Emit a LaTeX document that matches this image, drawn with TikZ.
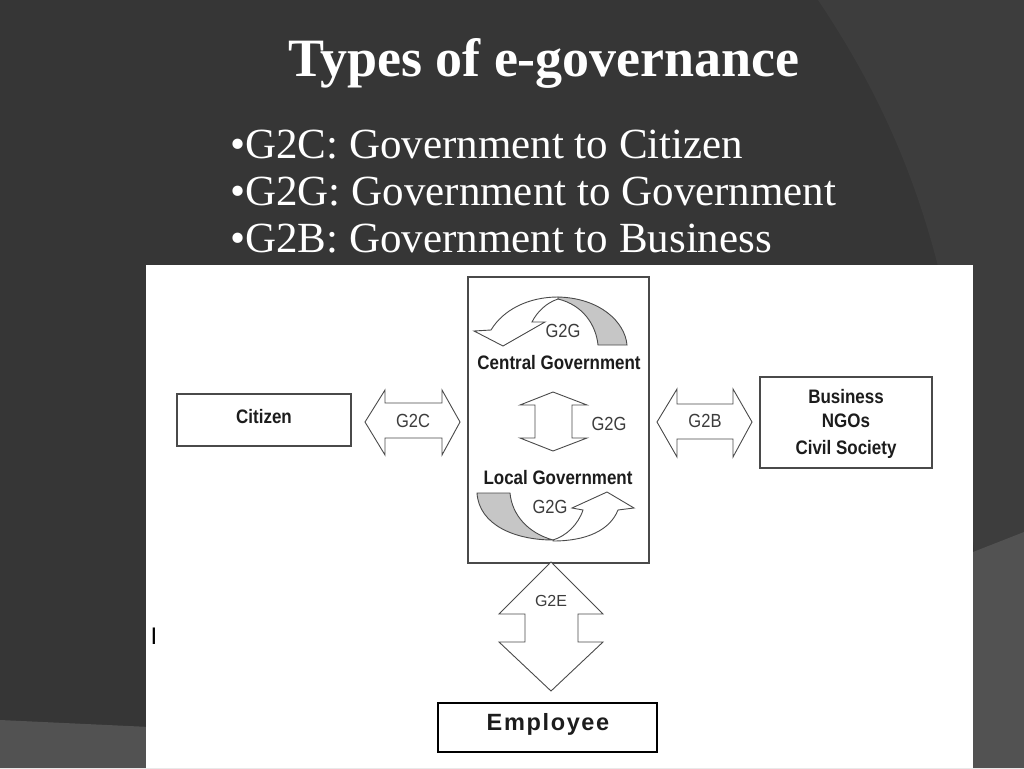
\documentclass[tikz,border=0pt]{standalone}
\usepackage{fontspec}
\setmainfont{Liberation Serif}
\newfontfamily\arial{Liberation Sans}
\newfontfamily\empfont[LetterSpace=7]{Liberation Sans}
\newcommand{\narrowtxt}[1]{\scalebox{0.87}[1]{#1}}
\definecolor{bgdark}{HTML}{363636}
\definecolor{bgmid}{HTML}{3D3D3D}
\definecolor{bglight}{HTML}{525252}
\definecolor{edge}{HTML}{4A4A4A}
\definecolor{band}{HTML}{C6C6C6}
\definecolor{lbl}{HTML}{3C3C3C}
\definecolor{ink}{HTML}{1C1C1C}
\tikzset{
  blockarrow/.style={draw=edge, fill=white, line width=0.9pt, line join=miter},
  bandshape/.style={draw=edge, fill=band, line width=0.9pt},
  boxshape/.style={draw=edge, line width=1.4pt, fill=white},
  arrowlabel/.style={font=\arial\fontsize{19}{19}\selectfont, text=lbl, inner sep=0pt},
  boldlabel/.style={font=\arial\bfseries\fontsize{19.5}{22}\selectfont, text=ink, inner sep=0pt},
  bullettext/.style={font=\fontsize{43}{47}\selectfont, text=white, anchor=base west, inner sep=0pt}
}
\begin{document}
\begin{tikzpicture}[x=1pt,y=-1pt]
\useasboundingbox (0,0) rectangle (1024,768);
% background
\fill[bgdark] (0,0) rectangle (1024,768);
\fill[bgmid] (818,0) .. controls (875,85) and (925,185) .. (952,330) -- (975,560) -- (1024,540) -- (1024,0) -- cycle;
\fill[bglight] (0,720) -- (150,727) -- (973,552) -- (1024,532) -- (1024,768) -- (0,768) -- cycle;
% title and bullets
\node[font=\bfseries\fontsize{54}{60}\selectfont, text=white, anchor=base, inner sep=0pt] (title) at (544,76) {Types of e-governance};
\node[bullettext] (b1) at (230,158) {\textbullet G2C: Government to Citizen};
\node[bullettext] (b2) at (230,205) {\textbullet G2G: Government to Government};
\node[bullettext] (b3) at (230,252) {\textbullet G2B: Government to Business};
% white picture area
\fill[white] (146,265) rectangle (973,768);
% boxes
\draw[boxshape] (177,394) rectangle (351,446);
\node[boldlabel] (citizen) at (264,417) {\narrowtxt{Citizen}};
\draw[boxshape] (760,377) rectangle (932,468);
\node[boldlabel] (business) at (846,397) {\narrowtxt{Business}};
\node[boldlabel] (ngos) at (846,421) {\narrowtxt{NGOs}};
\node[boldlabel] (civil) at (846,449) {\narrowtxt{Civil Society}};
\draw[boxshape] (468,277) rectangle (649,563);
\node[boldlabel] (central) at (559,363) {\narrowtxt{Central Government}};
\node[boldlabel] (local) at (558,478) {\narrowtxt{Local Government}};
\draw[draw=black, line width=2.8pt, fill=white] (438,703) rectangle (657,752);
\node[font=\empfont\bfseries\fontsize{23.5}{24}\selectfont, text=ink, inner sep=0pt] (employee) at (548,724) {Employee};
% G2C double arrow
\draw[blockarrow] (365,422) -- (385,390) -- (385,403) -- (442,403) -- (442,390) -- (460,422) -- (442,455) -- (442,438) -- (385,438) -- (385,455) -- cycle;
\node[arrowlabel] (g2c) at (413,421) {\narrowtxt{G2C}};
% G2B double arrow
\draw[blockarrow] (657,422) -- (677,389) -- (677,404) -- (733,404) -- (733,389) -- (752,422) -- (733,457) -- (733,439) -- (677,439) -- (677,457) -- cycle;
\node[arrowlabel] (g2b) at (705,421) {\narrowtxt{G2B}};
% vertical G2G arrow
\draw[blockarrow] (553,392) -- (587,405) -- (572,405) -- (572,438) -- (587,438) -- (553,451) -- (520,438) -- (535,438) -- (535,405) -- (520,405) -- cycle;
\node[arrowlabel] (g2gmid) at (609,424) {\narrowtxt{G2G}};
% G2E arrow
\draw[blockarrow] (551,562) -- (603,614) -- (578,614) -- (578,642) -- (603,642) -- (551,691) -- (499,642) -- (525,642) -- (525,614) -- (499,614) -- cycle;
\node[arrowlabel, font=\arial\fontsize{16}{16}\selectfont] (g2e) at (551,601) {G2E};
% top curved arrow
\draw[bandshape] (558,297) .. controls (600,298) and (625,322) .. (627,345) -- (598,345) .. controls (596,325) and (583,305) .. (558,299) -- cycle;
\draw[blockarrow] (558,297) .. controls (528,297) and (503,310) .. (491,330) -- (474,331) -- (503,346) -- (545,322) -- (532,322) .. controls (537,312) and (546,303) .. (558,299) -- cycle;
\node[arrowlabel] (g2gtop) at (563,331) {\narrowtxt{G2G}};
% bottom curved arrow
\draw[bandshape] (477,493) -- (510,493) .. controls (512,515) and (528,533) .. (553,540) .. controls (515,540) and (479,525) .. (477,493) -- cycle;
\draw[blockarrow] (553,541) .. controls (587,541) and (610,530) .. (618,510) -- (634,508) -- (607,492) -- (572,508) -- (583,510) .. controls (578,525) and (566,536) .. (553,540) -- cycle;
\node[arrowlabel] (g2gbot) at (550,507) {\narrowtxt{G2G}};
% stray mark
\node[font=\arial\fontsize{24}{24}\selectfont, text=black, inner sep=0pt] (mark) at (154,636) {I};
\end{tikzpicture}
\end{document}
